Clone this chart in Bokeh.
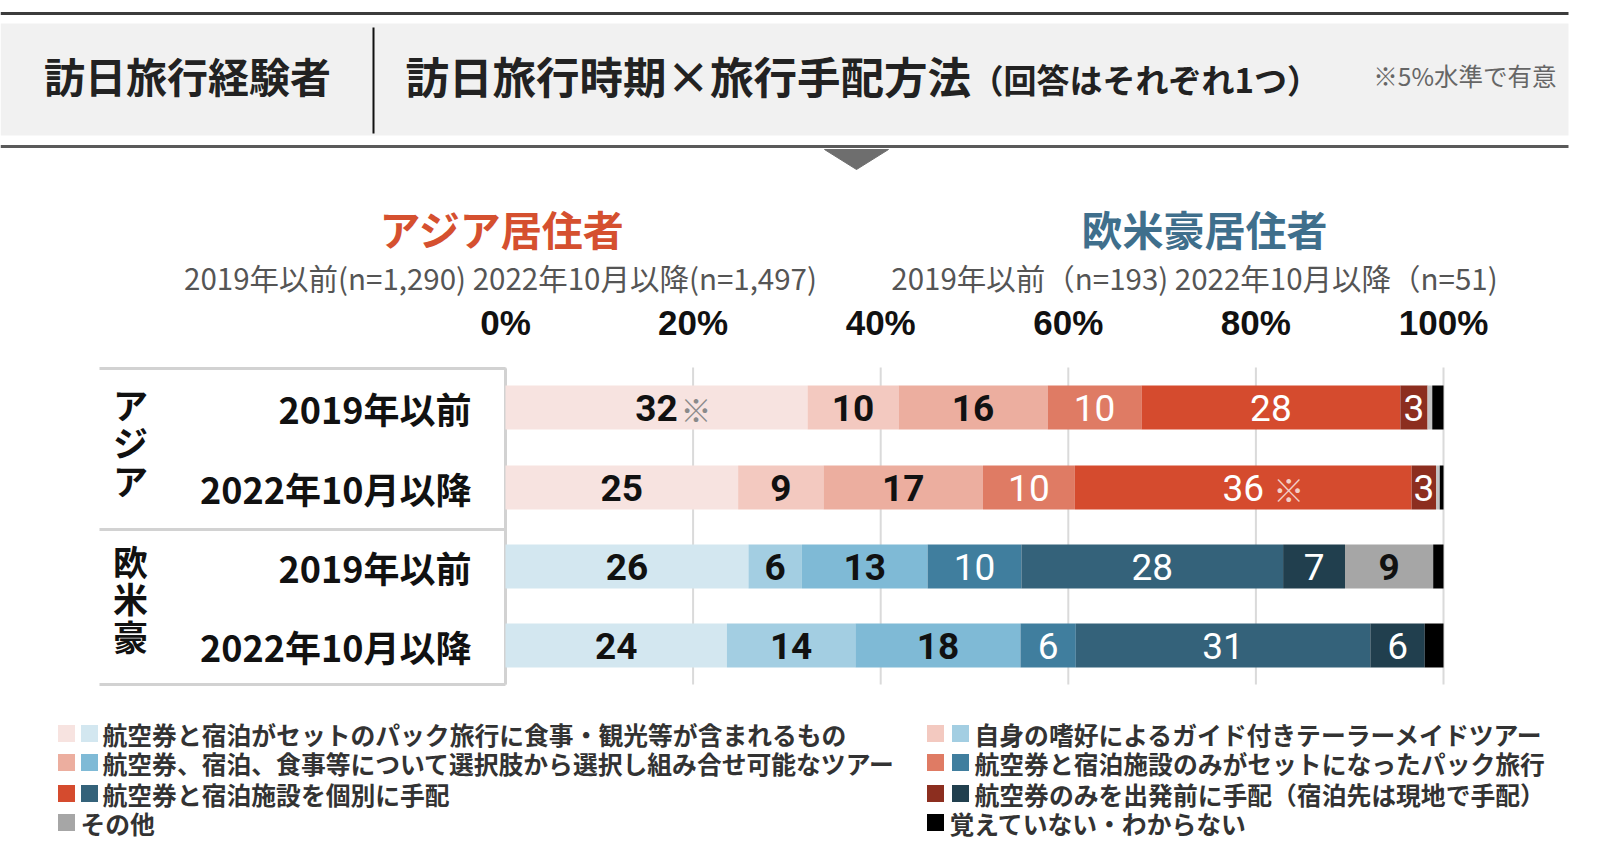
from bokeh.plotting import figure
from bokeh.models import Range1d, ColumnDataSource
from bokeh.core.properties import value
from bokeh.embed import file_html
from bokeh.resources import INLINE

# ---------------- data ----------------
categories = [
    "航空券と宿泊がセットのパック旅行に食事・観光等が含まれるもの",
    "自身の嗜好によるガイド付きテーラーメイドツアー",
    "航空券、宿泊、食事等について選択肢から選択し組み合せ可能なツアー",
    "航空券と宿泊施設のみがセットになったパック旅行",
    "航空券と宿泊施設を個別に手配",
    "航空券のみを出発前に手配（宿泊先は現地で手配）",
    "その他",
    "覚えていない・わからない",
]
groups = ["アジア", "欧米豪"]
periods = ["2019年以前", "2022年10月以降", "2019年以前", "2022年10月以降"]
asia_2019 = [32.2, 9.7, 15.9, 10.0, 27.6, 2.9, 0.5, 1.2]
asia_2022 = [24.8, 9.1, 17.0, 9.8, 35.9, 2.6, 0.4, 0.4]
west_2019 = [25.9, 5.7, 13.4, 10.0, 27.9, 6.6, 9.4, 1.1]
west_2022 = [23.6, 13.7, 17.6, 5.9, 31.4, 5.8, 0.0, 2.0]
significant = [[0], [4], [], []]  # segment indices marked ※
asia_colors = ["#F7E3E0", "#F3C9C0", "#ECAE9F", "#DF7B64", "#D54B2E", "#8C2E1F", "#C4C4C4", "#000000"]
west_colors = ["#D3E7F0", "#A3CEE2", "#7FBAD6", "#407E9E", "#34627A", "#213F4E", "#A6A6A6", "#000000"]
pct_ticks = [0, 20, 40, 60, 80, 100]
pct_labels = ["0%", "20%", "40%", "60%", "80%", "100%"]
asia_title = "アジア居住者"
west_title = "欧米豪居住者"
asia_sub = "2019年以前(n=1,290) 2022年10月以降(n=1,497)"
west_sub = "2019年以前（n=193) 2022年10月以降（n=51)"

rows = [asia_2019, asia_2022, west_2019, west_2022]
row_colors = [asia_colors, asia_colors, west_colors, west_colors]

# ---------------- layout ----------------
W, H = 1600, 862
PX0, PX100 = 505.0, 1443.0
ppp = (PX100 - PX0) / 100.0
ROW_Y = [407, 487, 566, 645]
BAR_H = 44
JP = value("Noto Sans CJK JP")

p = figure(width=W, height=H, x_range=Range1d(0, W), y_range=Range1d(H, 0),
           output_backend="svg", toolbar_location=None, min_border=0,
           x_axis_location=None, y_axis_location=None)
p.grid.visible = False
p.outline_line_color = None
p.background_fill_color = "white"
p.border_fill_color = "white"
p.extra_x_ranges = {"pct": Range1d(-PX0 / ppp, (W - PX0) / ppp)}

# ---------------- header ----------------
p.quad(left=[0], right=[1568], top=[23], bottom=[135], fill_color="#F1F1F1", line_color=None)
p.segment(x0=[0], y0=[13], x1=[1568], y1=[13], line_color="#3C3C3C", line_width=3)
p.segment(x0=[0], y0=[146], x1=[1568], y1=[146], line_color="#5A5A5A", line_width=3)
p.segment(x0=[373], y0=[27], x1=[373], y1=[133], line_color="#111111", line_width=2)
p.patch(x=[824, 888, 856], y=[149, 149, 169], color="#6E6E6E")

p.text(x=[187], y=[74], text=["訪日旅行経験者"], text_font=JP, text_font_style="bold",
       text_font_size="41px", text_align="center", text_baseline="middle", text_color="#222222")
p.text(x=[405], y=[75], text=["訪日旅行時期×旅行手配方法"], text_font=JP, text_font_style="bold",
       text_font_size="43.5px", text_align="left", text_baseline="middle", text_color="#222222")
p.text(x=[970], y=[78], text=["（回答はそれぞれ1つ）"], text_font=JP, text_font_style="bold",
       text_font_size="33px", text_align="left", text_baseline="middle", text_color="#222222")
p.text(x=[1556], y=[75], text=["※5%水準で有意"], text_font=JP,
       text_font_size="24.5px", text_align="right", text_baseline="middle", text_color="#666666")

# ---------------- titles ----------------
p.text(x=[502], y=[227], text=[asia_title], text_font=JP, text_font_style="bold",
       text_font_size="41px", text_align="center", text_baseline="middle", text_color="#D5502F")
p.text(x=[1204], y=[227], text=[west_title], text_font=JP, text_font_style="bold",
       text_font_size="41px", text_align="center", text_baseline="middle", text_color="#3F6F8C")
p.text(x=[500], y=[276], text=[asia_sub], text_font=JP,
       text_font_size="29.5px", text_align="center", text_baseline="middle", text_color="#555555")
p.text(x=[1194], y=[276], text=[west_sub], text_font=JP,
       text_font_size="29.5px", text_align="center", text_baseline="middle", text_color="#555555")

# ---------------- percent ticks & grid ----------------
p.text(x=pct_ticks, y=[322] * len(pct_ticks), text=pct_labels, x_range_name="pct",
       text_font=value("Liberation Sans"), text_font_style="bold", text_font_size="35px",
       text_align="center", text_baseline="middle", text_color="#111111")
p.segment(x0=pct_ticks, x1=pct_ticks, y0=[367] * 6, y1=[684] * 6, x_range_name="pct",
          line_color="#DADADA", line_width=2)

# ---------------- label box ----------------
p.segment(x0=[99, 505, 99, 99], y0=[368, 368, 684, 529], x1=[505, 505, 505, 505], y1=[368, 684, 684, 529],
          line_color="#D2D2D2", line_width=3)
p.text(x=[471] * 4, y=ROW_Y, text=periods, text_font=JP, text_font_style="bold",
       text_font_size="36px", text_align="right", text_baseline="middle", text_color="#111111")
p.text(x=[130, 130], y=[(ROW_Y[0] + ROW_Y[1]) / 2 - 6, (ROW_Y[2] + ROW_Y[3]) / 2 - 8],
       text=["\n".join(g) for g in groups], text_font=JP, text_font_style="bold",
       text_font_size="35px", text_align="center", text_baseline="middle",
       text_line_height=0.74, text_color="#111111")

# ---------------- bars ----------------
for vals, cols, yy, sig in zip(rows, row_colors, ROW_Y, significant):
    lefts, rights = [], []
    acc = 0.0
    for v in vals:
        lefts.append(acc)
        acc += v
        rights.append(acc)
    src = ColumnDataSource(dict(left=lefts, right=rights, y=[yy] * len(vals), color=cols))
    p.hbar(y="y", left="left", right="right", height=BAR_H, fill_color="color",
           line_color=None, source=src, x_range_name="pct")

    dark = dict(x=[], y=[], t=[])
    light = dict(x=[], y=[], t=[])
    for i, v in enumerate(vals):
        if i == len(vals) - 1 or v < 2:
            continue
        cx = (lefts[i] + rights[i]) / 2
        tgt = light if i in (3, 4, 5) else dark
        tgt["x"].append(cx)
        tgt["y"].append(yy)
        tgt["t"].append(str(round(v)))
        if i in sig:
            p.text(x=[cx], y=[yy + 1], text=["※"], x_offset=24 if i == 0 else 30, x_range_name="pct",
                   text_font=JP, text_font_size="31px", text_align="left", text_baseline="middle",
                   text_color="#F3CFC6" if i in (3, 4, 5) else "#8A8A8A")
    p.text(x=dark["x"], y=dark["y"], text=dark["t"], x_range_name="pct",
           text_font=value("Roboto"), text_font_style="bold", text_font_size="37px",
           text_align="center", text_baseline="middle", text_color="#111111")
    p.text(x=light["x"], y=light["y"], text=light["t"], x_range_name="pct",
           text_font=value("Roboto"), text_font_size="37px",
           text_align="center", text_baseline="middle", text_color="#FFFFFF")

# ---------------- legend ----------------
LEG_Y = [733, 762, 793, 822]
SW = 17
left_items = [(0, True), (2, True), (4, True), (6, False)]
right_items = [(1, True), (3, True), (5, True), (7, False)]
for items, sx1, sx2, tx_pair, tx_single in [(left_items, 66, 89, 102, 80), (right_items, 935, 960, 974, 949)]:
    for (ci, pair), ly in zip(items, LEG_Y):
        if pair:
            p.rect(x=[sx1, sx2], y=[ly, ly], width=SW, height=SW,
                   fill_color=[asia_colors[ci], west_colors[ci]], line_color=None)
            tx = tx_pair
        else:
            p.rect(x=[sx1], y=[ly], width=SW, height=SW, fill_color=west_colors[ci], line_color=None)
            tx = tx_single
        p.text(x=[tx], y=[ly], text=[categories[ci]], text_font=JP, text_font_style="bold",
               text_font_size="24.8px", text_align="left", text_baseline="middle", text_color="#333333")

open("out.html", "w").write(file_html(p, INLINE))
